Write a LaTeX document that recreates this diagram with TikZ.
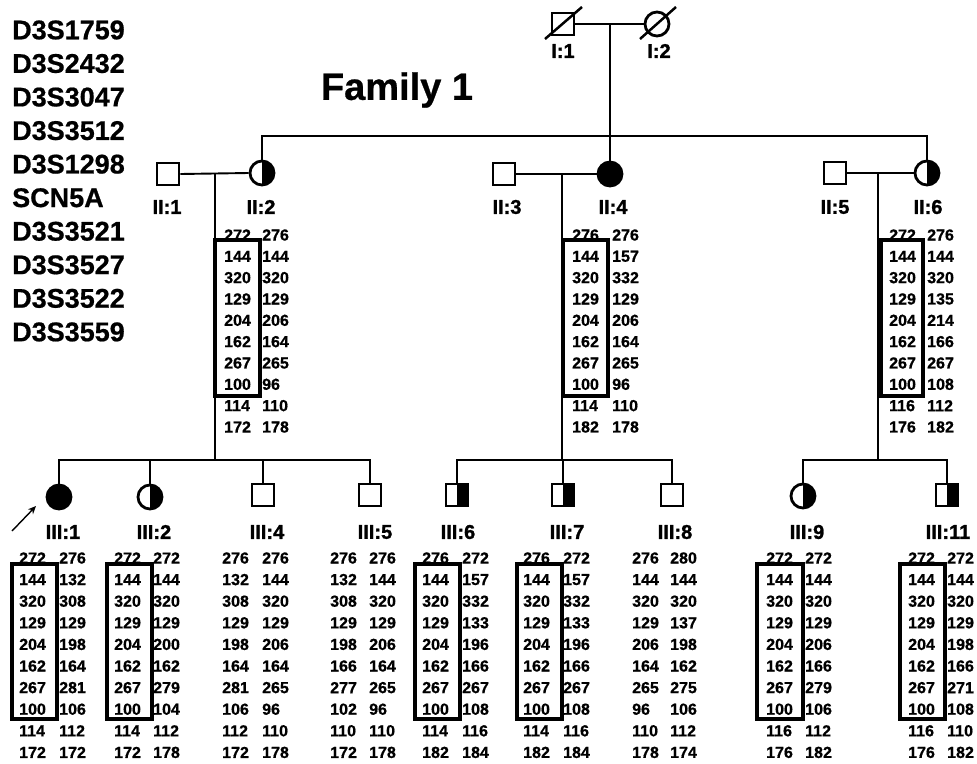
\documentclass[tikz,border=0pt]{standalone}
\usepackage{fontspec}
\setmainfont{Liberation Sans}
\newfontfamily\hvyA[FakeBold=1.3]{Liberation Sans Bold}
\newfontfamily\hvyB[FakeBold=0.7]{Liberation Sans Bold}
\usetikzlibrary{arrows.meta}
\tikzset{
  sq/.style={draw, rectangle, line width=2.8pt, minimum size=22pt, inner sep=0pt, fill=white},
  ci/.style={draw, circle, line width=2.8pt, minimum size=24pt, inner sep=0pt, fill=white},
  half/.style={path picture={\fill[black] (path picture bounding box.north) rectangle (path picture bounding box.south east);}},
  full/.style={fill=black},
  lbl/.style={font=\fontsize{20}{20}\selectfont\hvyA, inner sep=0pt},
  num/.style={font=\fontsize{16}{16}\selectfont\hvyB, inner sep=0pt, anchor=west},
  mk/.style={font=\fontsize{27}{27}\selectfont\hvyB, inner sep=0pt, anchor=west},
  ped/.style={line width=1.9pt},
  hbox/.style={line width=3.6pt},
  dec/.style={line width=2.5pt},
}
\newcommand\hapcol[5]{%
  \foreach \v [count=\i] in {#5} {\node[num] (#1\i) at (#2,{#3+(\i-1)*#4}) {\v};}}
\begin{document}
\begin{tikzpicture}[x=1pt,y=-1pt]
\useasboundingbox (0,0) rectangle (977,763);
\fill[white] (0,0) rectangle (977,763);

% marker names
\foreach \m [count=\i] in {D3S1759,D3S2432,D3S3047,D3S3512,D3S1298,SCN5A,D3S3521,D3S3527,D3S3522,D3S3559}
  {\node[mk] (mk\i) at (12,{30+(\i-1)*33.55}) {\m};}

\node[font=\fontsize{38}{38}\selectfont\hvyB, inner sep=0pt] (title) at (397,90) {Family 1};

% generation I
\node[sq] (I1) at (563,24) {};
\node[ci] (I2) at (657,24) {};
\coordinate (a1) at (545,39); \coordinate (b1) at (582,7);
\coordinate (a2) at (640,39); \coordinate (b2) at (676,7);
\draw[dec] (a1) -- (b1);
\draw[dec] (a2) -- (b2);
\node[lbl] (lI1) at (563,51) {I:1};
\node[lbl] (lI2) at (659,51) {I:2};
\coordinate (m1) at (610,24);
\draw[ped] (I1.east) -- (I2.west);

% generation II
\node[sq] (II1) at (168,174) {};
\node[ci,half] (II2) at (262,173) {};
\node[sq] (II3) at (504,174) {};
\node[ci,full] (II4) at (610,174) {};
\node[sq] (II5) at (835,173) {};
\node[ci,half] (II6) at (927,173) {};
\node[lbl] (lII1) at (167,207) {II:1};
\node[lbl] (lII2) at (261,207) {II:2};
\node[lbl] (lII3) at (507,207) {II:3};
\node[lbl] (lII4) at (613,207) {II:4};
\node[lbl] (lII5) at (835,207) {II:5};
\node[lbl] (lII6) at (928,207) {II:6};

\coordinate (sL) at (262,136);
\coordinate (sR) at (927,136);
\draw[ped] (m1) -- (II4.north);
\draw[ped] (II2.north) -- (sL) -- (sR) -- (II6.north);

\coordinate (d1) at (215,174); \coordinate (e1) at (215,460);
\coordinate (d2) at (562,174); \coordinate (e2) at (562,460);
\coordinate (d3) at (878,173); \coordinate (e3) at (878,460);
\draw[ped] (II1.east) -- (II2.west);
\draw[ped] (II3.east) -- (II4.west);
\draw[ped] (II5.east) -- (II6.west);
\draw[ped] (d1) -- (e1);
\draw[ped] (d2) -- (e2);
\draw[ped] (d3) -- (e3);

% generation III
\node[ci,full] (III1) at (59,497) {};
\node[ci,half] (III2) at (150,497) {};
\node[sq] (III4) at (263,495) {};
\node[sq] (III5) at (370,495) {};
\node[sq,half] (III6) at (457,495) {};
\node[sq,half] (III7) at (563,495) {};
\node[sq] (III8) at (672,495) {};
\node[ci,half] (III9) at (803,496) {};
\node[sq,half] (III11) at (947,495) {};

\node[lbl] (lIII1) at (63,532) {III:1};
\node[lbl] (lIII2) at (154,532) {III:2};
\node[lbl] (lIII4) at (267,532) {III:4};
\node[lbl] (lIII5) at (375,532) {III:5};
\node[lbl] (lIII6) at (458,532) {III:6};
\node[lbl] (lIII7) at (567,532) {III:7};
\node[lbl] (lIII8) at (675,532) {III:8};
\node[lbl] (lIII9) at (807,532) {III:9};
\node[lbl] (lIII11) at (948,532) {III:11};

\coordinate (g1) at (59,460); \coordinate (g2) at (370,460);
\coordinate (g3) at (457,460); \coordinate (g4) at (672,460);
\coordinate (g5) at (803,460); \coordinate (g6) at (947,460);
\draw[ped] (III1.north) -- (g1) -- (g2) -- (III5.north);
\draw[ped] (III2.north) -- (III2.north |- g1);
\draw[ped] (III4.north) -- (III4.north |- g1);
\draw[ped] (III6.north) -- (g3) -- (g4) -- (III8.north);
\draw[ped] (III7.north) -- (III7.north |- g3);
\draw[ped] (III9.north) -- (g5) -- (g6) -- (III11.north);

% proband arrow
\coordinate (ar1) at (12,531); \coordinate (ar2) at (36,506);
\draw[line width=1.4pt, -{Stealth[length=8pt,width=7pt]}] (ar1) -- (ar2);

% haplotypes generation II
\def\dA{21.33}
\hapcol{hIIa}{224}{235}{\dA}{272,144,320,129,204,162,267,100,114,172}
\hapcol{hIIb}{262}{235}{\dA}{276,144,320,129,206,164,265,96,110,178}
\draw[hbox] (215,240) rectangle (260,396);
\hapcol{hIVa}{572}{235}{\dA}{276,144,320,129,204,162,267,100,114,182}
\hapcol{hIVb}{612}{235}{\dA}{276,157,332,129,206,164,265,96,110,178}
\draw[hbox] (563,240) rectangle (608,396);
\hapcol{hVIa}{889}{235}{\dA}{272,144,320,129,204,162,267,100,116,176}
\hapcol{hVIb}{927}{235}{\dA}{276,144,320,135,214,166,267,108,112,182}
\draw[hbox] (881,240) rectangle (923,396);

% haplotypes generation III
\def\dB{21.6}
\hapcol{g1a}{19}{558}{\dB}{272,144,320,129,204,162,267,100,114,172}
\hapcol{g1b}{59}{558}{\dB}{276,132,308,129,198,164,281,106,112,172}
\draw[hbox] (12,564) rectangle (57,719);
\hapcol{g2a}{114}{558}{\dB}{272,144,320,129,204,162,267,100,114,172}
\hapcol{g2b}{153}{558}{\dB}{272,144,320,129,200,162,279,104,112,178}
\draw[hbox] (107,564) rectangle (152,719);
\hapcol{g4a}{222}{558}{\dB}{276,132,308,129,198,164,281,106,112,172}
\hapcol{g4b}{262}{558}{\dB}{276,144,320,129,206,164,265,96,110,178}
\hapcol{g5a}{330}{558}{\dB}{276,132,308,129,198,166,277,102,110,172}
\hapcol{g5b}{369}{558}{\dB}{276,144,320,129,206,164,265,96,110,178}
\hapcol{g6a}{422}{558}{\dB}{276,144,320,129,204,162,267,100,114,182}
\hapcol{g6b}{462}{558}{\dB}{272,157,332,133,196,166,267,108,116,184}
\draw[hbox] (415,564) rectangle (460,719);
\hapcol{g7a}{523}{558}{\dB}{276,144,320,129,204,162,267,100,114,182}
\hapcol{g7b}{563}{558}{\dB}{272,157,332,133,196,166,267,108,116,184}
\draw[hbox] (517,564) rectangle (562,719);
\hapcol{g8a}{632}{558}{\dB}{276,144,320,129,206,164,265,96,110,178}
\hapcol{g8b}{670}{558}{\dB}{280,144,320,137,198,162,275,106,112,174}
\hapcol{g9a}{766}{558}{\dB}{272,144,320,129,204,162,267,100,116,176}
\hapcol{g9b}{805}{558}{\dB}{272,144,320,129,206,166,279,106,112,182}
\draw[hbox] (757,564) rectangle (803,719);
\hapcol{g11a}{908}{558}{\dB}{272,144,320,129,204,162,267,100,116,176}
\hapcol{g11b}{947}{558}{\dB}{272,144,320,129,198,166,271,108,110,182}
\draw[hbox] (900,564) rectangle (945,719);
\end{tikzpicture}
\end{document}
